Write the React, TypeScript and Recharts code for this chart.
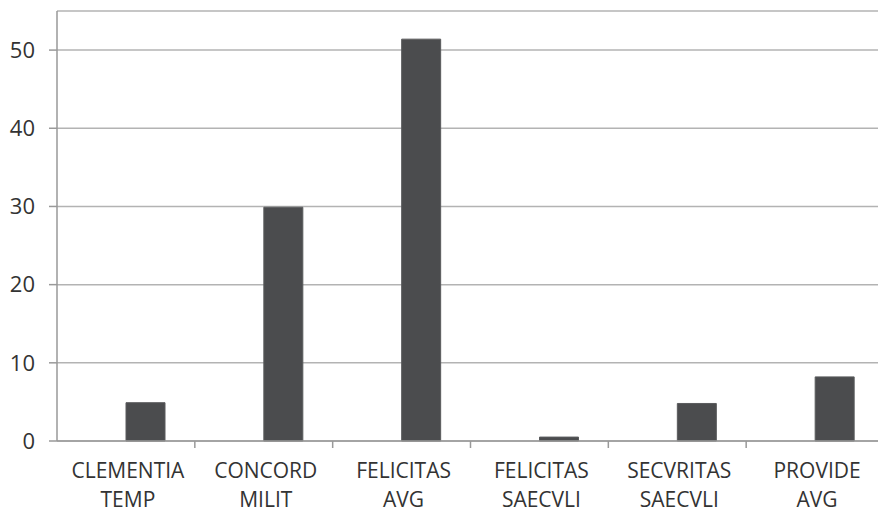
import { BarChart, Bar, XAxis, YAxis, CartesianGrid } from 'recharts';

const categories = [
  'CLEMENTIA TEMP',
  'CONCORD MILIT',
  'FELICITAS AVG',
  'FELICITAS SAECVLI',
  'SECVRITAS SAECVLI',
  'PROVIDE AVG',
];
const values = [4.9, 29.9, 51.4, 0.5, 4.8, 8.2];
const yTicks = [0, 10, 20, 30, 40, 50];

const data = categories.map((name, i) => ({ name, blank: null, value: values[i] }));

const FONT = '"Open Sans", "Noto Sans", sans-serif';
const TEXT = '#333';

function CategoryTick(props: any) {
  const { x, y, payload, index, visibleTicksCount } = props;
  const half = payload.offset ?? 69;
  const lines = String(payload.value).split(' ');
  const last = index === (visibleTicksCount ?? categories.length) - 1;
  return (
    <g>
      {index > 0 && (
        <line x1={x - half} y1={y} x2={x - half} y2={y + 7} stroke="#999" strokeWidth={1.5} />
      )}
      {last && <line x1={x + half} y1={y} x2={x + half} y2={y + 7} stroke="#999" strokeWidth={1.5} />}
      <text x={x + 2} y={y} textAnchor="middle" fill={TEXT} fontSize={21} fontFamily={FONT}>
        {lines.map((l, i) => (
          <tspan key={i} x={x + 2} y={y + 37 + i * 29}>
            {l}
          </tspan>
        ))}
      </text>
    </g>
  );
}

export default function App() {
  return (
    <div style={{ position: 'absolute', left: 0, top: 0, width: 878, height: 514, overflow: 'hidden', background: '#fff' }}>
      <BarChart
        width={900}
        height={514}
        data={data}
        margin={{ top: 11, right: 16, left: 0, bottom: 0 }}
        barGap={0}
        barSize={39}
      >
        <CartesianGrid vertical={false} stroke="#b3b3b3" strokeWidth={1.5} />
        <XAxis
          dataKey="name"
          height={73}
          tickLine={false}
          tickSize={0}
          tickMargin={0}
          axisLine={{ stroke: '#999', strokeWidth: 1.5 }}
          interval={0}
          tick={<CategoryTick />}
        />
        <YAxis
          width={57}
          domain={[0, 55]}
          ticks={yTicks}
          tickSize={8}
          tickMargin={14}
          axisLine={{ stroke: '#999', strokeWidth: 1.5 }}
          tickLine={{ stroke: '#999', strokeWidth: 1.5 }}
          tick={{ fill: TEXT, fontSize: 22, fontFamily: FONT }}
        />
        <Bar dataKey="blank" fill="#4b4c4e" isAnimationActive={false} />
        <Bar dataKey="value" fill="#4b4c4e" stroke="#5a5b5d" isAnimationActive={false} />
      </BarChart>
    </div>
  );
}
